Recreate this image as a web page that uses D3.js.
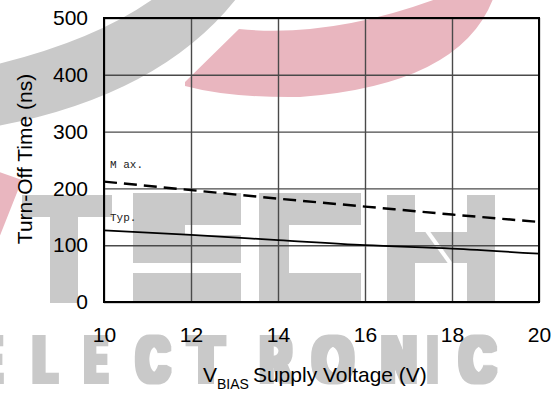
<!DOCTYPE html>
<html>
<head>
<meta charset="utf-8">
<script src="https://cdn.jsdelivr.net/npm/d3@7"></script>
<style>
  html, body { margin: 0; padding: 0; background: #fff; }
  svg { display: block; }
</style>
</head>
<body>
<svg id="chart" width="558" height="404"></svg>
<script>
// Turn-off time versus bias supply voltage
const voltage = [10, 12, 14, 16, 18, 20];
const turnOffMax = [212, 197, 182, 168, 154, 141];
const turnOffTyp = [126, 118, 109, 100, 94, 85];
const xTicks = [10, 12, 14, 16, 18, 20];
const yTicks = [0, 100, 200, 300, 400, 500];
const seriesLabels = ["M ax.", "Typ."];

const W = 558, H = 404;
const margin = { left: 104, right: 19, top: 18, bottom: 102 };
const svg = d3.select("#chart");

const x = d3.scaleLinear().domain([10, 20]).range([margin.left, W - margin.right]);
const y = d3.scaleLinear().domain([0, 500]).range([H - margin.bottom, margin.top]);
const plotW = x.range()[1] - x.range()[0];
const plotH = y.range()[0] - y.range()[1];

// ---- background logo artwork ----
const logoGray = "#c9c9c9", logoPink = "#e9b6bf";
const dilX = 4, dilY = 1.5;
const defs = svg.append("defs");
const heavy = defs.append("filter").attr("id", "heavy")
  .attr("x", "-20%").attr("y", "-20%").attr("width", "140%").attr("height", "140%");
heavy.append("feMorphology").attr("operator", "dilate").attr("radius", `${dilX} ${dilY}`);

const logo = svg.append("g").attr("class", "logo");
logo.append("path").attr("fill", logoGray)
  .attr("d", "M-2,64 Q95,40 153,-1 L236,-1 Q160,95 -2,126 Z");
logo.append("path").attr("fill", logoPink)
  .attr("d", "M185,82 L239,29 Q330,38 436,-1 L493,-1 Q460,85 300,97 Q230,98 185,86 Z");
logo.append("path").attr("fill", logoPink)
  .attr("d", "M-1,172 L22,180 L-1,238 Z");
const blocks = [
  // T
  [22, 195, 112, 217], [50, 217, 78, 303],
  // E
  [133, 193, 185, 263], [185, 193, 241, 225], [185, 235, 241, 263], [133, 273, 241, 303],
  // C
  [259, 193, 289, 303], [289, 193, 361, 225], [289, 273, 361, 303],
  // H
  [387, 195, 415, 303], [467, 195, 495, 303], [415, 232, 467, 263]
];
logo.selectAll("rect.blk").data(blocks).join("rect")
  .attr("class", "blk").attr("fill", logoGray)
  .attr("x", d => d[0]).attr("y", d => d[1])
  .attr("width", d => d[2] - d[0]).attr("height", d => d[3] - d[1]);
logo.append("line").attr("x1", 425).attr("y1", 228).attr("x2", 453).attr("y2", 267)
  .attr("stroke", "#fff").attr("stroke-width", 4);

// wordmark: each letter squeezed to its own box, then thickened
const brand = "ELECTRONIC".split("");
const brandBox = [[-23, 5], [30, 60], [82, 110], [133, 173], [185, 227],
                  [257, 295], [309, 357], [378, 420], [426, 439], [456, 499]];
const word = logo.append("g").attr("filter", "url(#heavy)");
word.selectAll("text.brand").data(brand).join("text")
  .attr("class", "brand")
  .attr("text-anchor", "middle")
  .attr("font-family", "Liberation Sans, Arial, sans-serif")
  .attr("font-weight", "bold").attr("font-size", 65.5)
  .attr("fill", logoGray)
  .text(d => d)
  .each(function(d, i) {
    const w = this.getComputedTextLength();
    const target = brandBox[i][1] - brandBox[i][0] - 2 * dilX;
    const cx = (brandBox[i][0] + brandBox[i][1]) / 2;
    d3.select(this).attr("transform", `translate(${cx},${383 - dilY}) scale(${target / w},1)`);
  });

// ---- grid and axes ----
const font = "Liberation Sans, Arial, Helvetica, sans-serif";
const gx = svg.append("g")
  .attr("transform", `translate(0,${y(0)})`)
  .call(d3.axisBottom(x).tickValues(xTicks).tickSize(-plotH).tickPadding(25).tickFormat(d3.format("d")));
const gy = svg.append("g")
  .attr("transform", `translate(${x(10)},0)`)
  .call(d3.axisLeft(y).tickValues(yTicks).tickSize(-plotW).tickPadding(16).tickFormat(d3.format("d")));
[gx, gy].forEach(g => {
  g.select(".domain").remove();
  g.selectAll(".tick line").attr("stroke", "#4a4a4a").attr("stroke-width", 1.4);
  g.selectAll(".tick text").attr("font-family", font).attr("font-size", 21).attr("fill", "#000");
});

// plot frame
svg.append("rect")
  .attr("x", x(10)).attr("y", y(500))
  .attr("width", plotW).attr("height", plotH)
  .attr("fill", "none").attr("stroke", "#000").attr("stroke-width", 2);

// ---- curves ----
const line = d3.line()
  .x((d, i) => x(voltage[i]))
  .y(d => y(d))
  .curve(d3.curveMonotoneX);
svg.append("path").datum(turnOffMax)
  .attr("d", line).attr("fill", "none")
  .attr("stroke", "#000").attr("stroke-width", 2.4)
  .attr("stroke-dasharray", "13,7");
svg.append("path").datum(turnOffTyp)
  .attr("d", line).attr("fill", "none")
  .attr("stroke", "#000").attr("stroke-width", 1.8);

// curve labels
const labelY = [y(turnOffMax[0]) - 14, y(turnOffTyp[0]) - 9];
svg.selectAll("text.series").data(seriesLabels).join("text")
  .attr("class", "series")
  .attr("x", x(10) + 6).attr("y", (d, i) => labelY[i])
  .attr("font-family", "Liberation Mono, Courier New, monospace")
  .attr("font-size", 11).attr("fill", "#222")
  .text(d => d);

// ---- axis titles ----
svg.append("text")
  .attr("transform", `translate(32,159) rotate(-90)`)
  .attr("text-anchor", "middle")
  .attr("font-family", font).attr("font-size", 21)
  .text("Turn-Off Time (ns)");
const xt = svg.append("text")
  .attr("x", 203).attr("y", 382)
  .attr("font-family", font).attr("font-size", 21);
xt.append("tspan").text("V");
xt.append("tspan").attr("font-size", 14).attr("dy", 7).text("BIAS");
xt.append("tspan").attr("dy", -7).attr("dx", 4).text("Supply Voltage (V)");
</script>
</body>
</html>
